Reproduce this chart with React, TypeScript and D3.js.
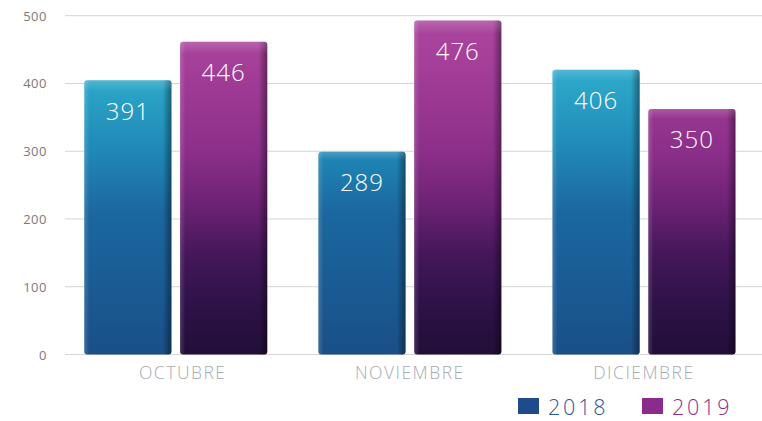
import React from "react";
import * as d3 from "d3";

const categories = ["OCTUBRE", "NOVIEMBRE", "DICIEMBRE"];
const seriesNames = ["2018", "2019"];
const values2018 = [391, 289, 406];
const values2019 = [446, 476, 350];
const yTicks = [0, 100, 200, 300, 400, 500];

const W = 762;
const H = 421;
const FONT = "'Open Sans', 'Noto Sans', sans-serif";

export default function App() {
  const top = 15.7;
  const bottom = 354.5;
  // axis scale (gridlines)
  const yAxis = d3.scaleLinear().domain([0, 500]).range([bottom, top]);
  // bars as drawn in the reference (slightly taller than the axis implies)
  const yBar = d3.scaleLinear().domain([0, 483]).range([bottom, top]);

  const x0 = d3.scaleBand<string>().domain(categories).range([58.7, 761]).padding(0);
  const x1 = d3
    .scaleBand<string>()
    .domain(seriesNames)
    .range([-91.5, 91.5])
    .paddingInner(0.09)
    .paddingOuter(0);

  const series = [
    { name: "2018", values: values2018, grad: "g2018", legend: "#1d4b8c", text: "#2b5592", edge: "#7fd6ea" },
    { name: "2019", values: values2019, grad: "g2019", legend: "#8a2b8e", text: "#8a2c8e", edge: "#c35cb8" },
  ];

  const r = 3;

  return (
    <svg width={W} height={H} style={{ position: "absolute", left: 0, top: 0, background: "#fff" }}>
      <defs>
        <linearGradient id="g2018" gradientUnits="userSpaceOnUse" x1="0" y1={top} x2="0" y2={bottom}>
          <stop offset="0" stopColor="#36b6d0" />
          <stop offset="0.2" stopColor="#2ba6c8" />
          <stop offset="0.4" stopColor="#2088b6" />
          <stop offset="0.58" stopColor="#1b679f" />
          <stop offset="0.8" stopColor="#1a5b94" />
          <stop offset="1" stopColor="#1a4f88" />
        </linearGradient>
        <linearGradient id="g2019" gradientUnits="userSpaceOnUse" x1="0" y1={top} x2="0" y2={bottom}>
          <stop offset="0" stopColor="#ac469f" />
          <stop offset="0.15" stopColor="#a43e98" />
          <stop offset="0.4" stopColor="#8c2f8a" />
          <stop offset="0.56" stopColor="#6c2274" />
          <stop offset="0.7" stopColor="#45175a" />
          <stop offset="0.85" stopColor="#2e1248" />
          <stop offset="1" stopColor="#220e38" />
        </linearGradient>
        <linearGradient id="edge" x1="0" y1="0" x2="1" y2="0">
          <stop offset="0" stopColor="#ffffff" stopOpacity="0.16" />
          <stop offset="0.06" stopColor="#ffffff" stopOpacity="0" />
          <stop offset="0.9" stopColor="#000000" stopOpacity="0" />
          <stop offset="0.96" stopColor="#000000" stopOpacity="0.25" />
          <stop offset="1" stopColor="#000000" stopOpacity="0.4" />
        </linearGradient>
        <linearGradient id="topHi" x1="0" y1="0" x2="0" y2="1">
          <stop offset="0" stopColor="#ffffff" stopOpacity="0.18" />
          <stop offset="0.04" stopColor="#ffffff" stopOpacity="0" />
          <stop offset="1" stopColor="#ffffff" stopOpacity="0" />
        </linearGradient>
      </defs>

      {yTicks.map((t) => (
        <g key={t}>
          <line x1={65} x2={W} y1={yAxis(t)} y2={yAxis(t)} stroke="#d4d4d4" strokeWidth={1} />
          <text
            x={47}
            y={yAxis(t)}
            textAnchor="end"
            dominantBaseline="central"
            fontFamily={FONT}
            fontSize={13}
            letterSpacing={0.5}
            fill="#7a7a7a"
          >
            {t}
          </text>
        </g>
      ))}

      {categories.map((c, i) => {
        const cx = (x0(c) as number) + x0.bandwidth() / 2;
        return (
          <g key={c}>
            {series.map((s) => {
              const bx = cx + (x1(s.name) as number);
              const bw = x1.bandwidth();
              const by = yBar(s.values[i]);
              const bh = bottom - by;
              return (
                <g key={s.name}>
                  <rect x={bx} y={by} width={bw} height={bh} rx={r} fill={`url(#${s.grad})`} />
                  <rect x={bx} y={by} width={bw} height={bh} rx={r} fill="url(#edge)" />
                  <rect x={bx} y={by} width={bw} height={bh} rx={r} fill="url(#topHi)" />
                  <text
                    x={bx + bw / 2}
                    y={by + 30}
                    textAnchor="middle"
                    dominantBaseline="central"
                    fontFamily={FONT}
                    fontWeight={300}
                    fontSize={24}
                    letterSpacing={1}
                    fill="#ffffff"
                  >
                    {s.values[i]}
                  </text>
                </g>
              );
            })}
            <text
              x={cx + (i === 0 ? 7 : 0)}
              y={372}
              textAnchor="middle"
              dominantBaseline="central"
              fontFamily={FONT}
              fontWeight={300}
              fontSize={17.5}
              letterSpacing={1.5}
              fill="#a4abb2"
            >
              {c}
            </text>
          </g>
        );
      })}

      {series.map((s, k) => {
        const lx = k === 0 ? 518 : 642;
        return (
          <g key={s.name}>
            <rect x={lx} y={398} width={21} height={16} fill={s.legend} />
            <text
              x={lx + 30}
              y={406.5}
              dominantBaseline="central"
              fontFamily={FONT}
              fontWeight={300}
              fontSize={21.5}
              letterSpacing={2.8}
              fill={s.text}
            >
              {s.name}
            </text>
          </g>
        );
      })}
    </svg>
  );
}
